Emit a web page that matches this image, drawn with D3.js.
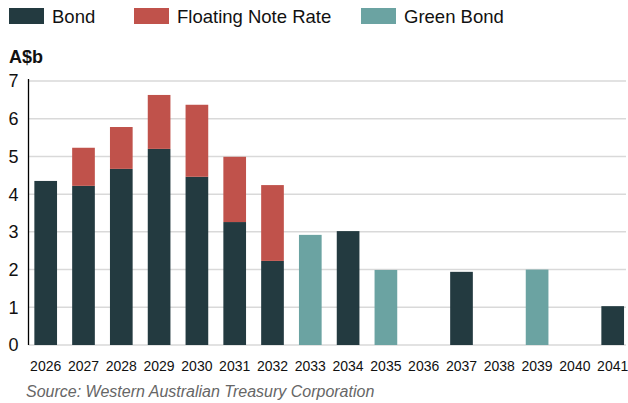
<!DOCTYPE html>
<html>
<head>
<meta charset="utf-8">
<script src="https://cdn.jsdelivr.net/npm/d3@7"></script>
<style>
  body { margin: 0; background: #fff; }
  svg { display: block; font-family: "Liberation Sans", Arial, sans-serif; }
</style>
</head>
<body>
<div id="chart"></div>
<script>
// maturity years and amounts (A$b) per type
const years = ['2026','2027','2028','2029','2030','2031','2032','2033','2034','2035','2036','2037','2038','2039','2040','2041']
const bond = [4.35, 4.22, 4.67, 5.2, 4.46, 3.26, 2.23, 0, 3.02, 0, 0, 1.94, 0, 0, 0, 1.03]
const floatingNote = [0, 1.01, 1.11, 1.43, 1.91, 1.73, 2.01, 0, 0, 0, 0, 0, 0, 0, 0, 0]
const greenBond = [0, 0, 0, 0, 0, 0, 0, 2.92, 0, 1.99, 0, 0, 0, 2.0, 0, 0]
const seriesNames = ['Bond', 'Floating Note Rate', 'Green Bond']
const yTicks = [0, 1, 2, 3, 4, 5, 6, 7]

const width = 628
const height = 403
const colors = ['#233a40', '#c0524b', '#6ba3a2']

const svg = d3.select('#chart').append('svg')
  .attr('width', width)
  .attr('height', height)

const data = years.map((y, i) => ({ year: y, bond: bond[i], fnr: floatingNote[i], green: greenBond[i] }))
const keys = ['bond', 'fnr', 'green']

const x = d3.scaleBand()
  .domain(years)
  .range([26.8, 631.6])
  .paddingInner(0.4)
  .paddingOuter(0.2)

const y = d3.scaleLinear()
  .domain([0, 7])
  .range([345, 81])

// gridlines
svg.append('g')
  .selectAll('line')
  .data(yTicks)
  .enter()
  .append('line')
    .attr('x1', 28.5)
    .attr('x2', 626)
    .attr('y1', d => y(d))
    .attr('y2', d => y(d))
    .attr('stroke', '#d9d9d9')
    .attr('stroke-width', 1.5)

// y tick labels
svg.append('g')
  .selectAll('text')
  .data(yTicks)
  .enter()
  .append('text')
    .attr('x', 18.5)
    .attr('y', d => y(d))
    .attr('dy', '0.36em')
    .attr('text-anchor', 'end')
    .style('font-size', '18px')
    .attr('fill', '#111')
    .text(d => d)

// stacked bars
const stack = d3.stack().keys(keys)
const layers = stack(data)

svg.append('g')
  .selectAll('g')
  .data(layers)
  .enter()
  .append('g')
    .attr('fill', (d, i) => colors[i])
  .selectAll('rect')
  .data(d => d.filter(p => p[1] - p[0] > 0))
  .enter()
  .append('rect')
    .attr('x', d => x(d.data.year))
    .attr('width', x.bandwidth())
    .attr('y', d => y(d[1]))
    .attr('height', d => y(d[0]) - y(d[1]))

// y axis line
svg.append('line')
  .attr('x1', 28.5).attr('x2', 28.5)
  .attr('y1', 79).attr('y2', 345)
  .attr('stroke', '#000')
  .attr('stroke-width', 1.3)

// x tick labels
svg.append('g')
  .selectAll('text')
  .data(years)
  .enter()
  .append('text')
    .attr('x', d => x(d) + x.bandwidth() / 2)
    .attr('y', 371)
    .attr('text-anchor', 'middle')
    .style('font-size', '14px')
    .attr('fill', '#111')
    .text(d => d)

// unit label
svg.append('text')
  .attr('x', 9)
  .attr('y', 63)
  .style('font-size', '18px')
  .style('font-weight', 'bold')
  .attr('fill', '#111')
  .text('A$b')

// legend
const legendX = [9, 134, 361]
const legend = svg.append('g')
  .selectAll('g')
  .data(seriesNames)
  .enter()
  .append('g')
    .attr('transform', (d, i) => 'translate(' + legendX[i] + ',8)')
legend.append('rect')
  .attr('width', 35)
  .attr('height', 16)
  .attr('fill', (d, i) => colors[i])
legend.append('text')
  .attr('x', 43)
  .attr('y', 14.5)
  .style('font-size', '18.5px')
  .attr('fill', '#111')
  .text(d => d)

// source
svg.append('text')
  .attr('x', 26)
  .attr('y', 397)
  .style('font-size', '16px')
  .style('font-style', 'italic')
  .attr('fill', '#666')
  .text('Source: Western Australian Treasury Corporation')
</script>
</body>
</html>
